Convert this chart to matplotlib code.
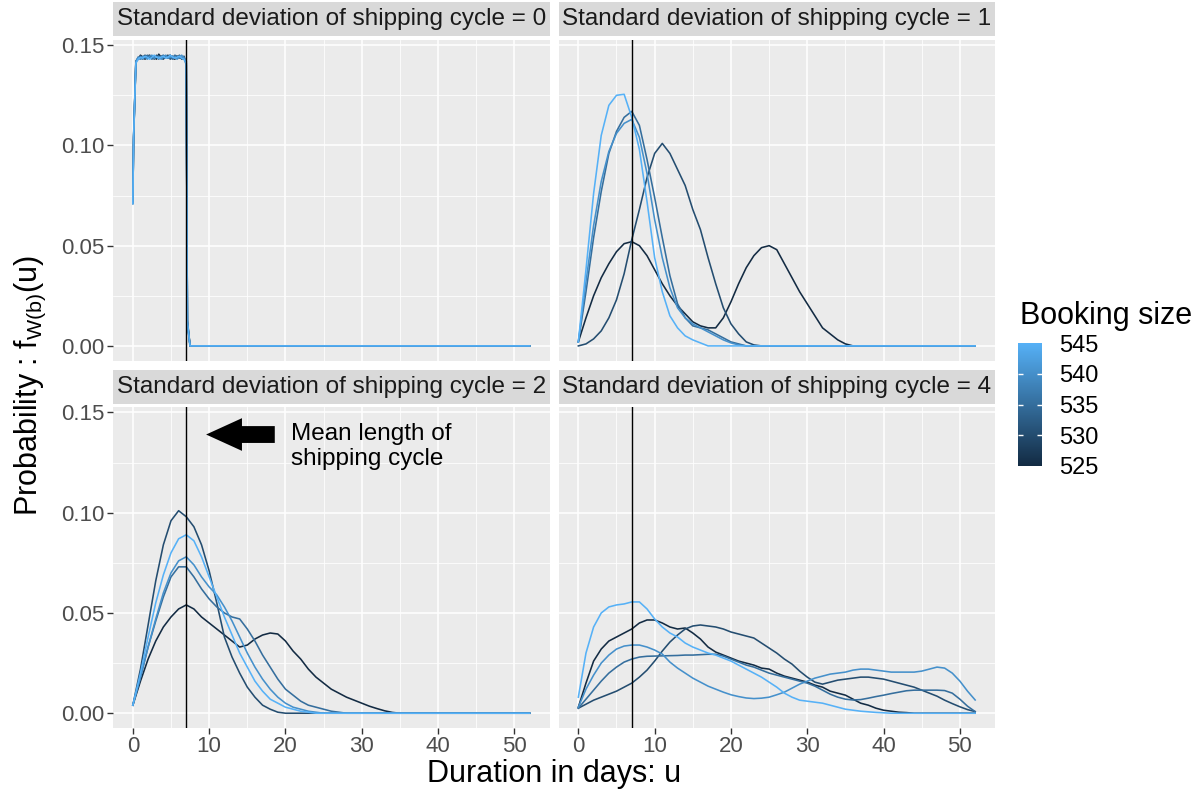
import numpy as np
import matplotlib.pyplot as plt
from matplotlib.colors import LinearSegmentedColormap, Normalize
from matplotlib.patches import FancyArrow
from matplotlib.ticker import MultipleLocator, FormatStrFormatter

plt.rcParams['font.family'] = ['Liberation Sans', 'DejaVu Sans']

W, H = 1201, 792

# booking sizes (colour scale) and facet values
booking = [525, 530, 535, 540, 545]
sd_values = [0, 1, 2, 4]
mean_cycle = 7

# sd = 0 has its own finer day grid (step plateau)
days_sd0 = [0, 0.1, 0.4, 0.7, 1.0, 1.3, 1.6, 1.9, 2.2, 2.5, 2.8, 3.1, 3.4, 3.7,
            4.0, 4.3, 4.6, 4.9, 5.2, 5.5, 5.8, 6.1, 6.4, 6.7, 7.0, 7.15, 7.5, 52]
# other panels: one value per day, 0..52
days = list(range(53))

# densities, in units of 1/1000
sd0 = {
    525: [72, 103, 142, 143, 145, 144, 143, 144.5, 145, 143.5, 144, 143, 145.5, 144,
          143.5, 144, 144.5, 145, 143.5, 143, 144.5, 144, 143.5, 143, 142, 12, 0, 0],
    530: [72, 104, 141.5, 144, 143, 144, 145, 143.5, 144, 144.5, 143, 145, 144, 143.5,
          143, 144.5, 145, 143, 144.5, 144, 143.5, 145, 143, 144.5, 141, 13, 0, 0],
    535: [71, 105, 142, 143.5, 144.5, 143, 144, 145, 144, 143, 144, 144.5, 143, 144.5,
          145, 144, 143.5, 144, 143, 145, 144.5, 143.5, 144, 144, 140, 11, 0, 0],
    540: [71, 103, 142, 144, 143, 144.5, 144, 143, 144.5, 145, 143.5, 144, 144.5, 143,
          144, 145, 143.5, 144, 144.5, 144, 143, 144, 145, 143.5, 142, 10, 0, 0],
    545: [71, 104, 141, 143, 144, 143.5, 144.5, 144, 143, 144, 145, 144, 143.5, 144,
          144.5, 143.5, 144, 145, 144, 143.5, 144, 144.5, 143.5, 143, 141, 12, 0, 0],
}

sd1 = {
    525: [2, 14, 25, 34, 41, 47, 51, 52, 50, 45,
          38, 31, 25, 20, 16, 12, 10, 9, 9, 14,
          22, 31, 39, 45, 49, 50, 48, 41, 34, 27,
          21, 15, 9, 6, 3, 1, 0, 0, 0, 0,
          0, 0, 0, 0, 0, 0, 0, 0, 0, 0,
          0, 0, 0],
    530: [0, 1, 3.5, 7.5, 14, 23, 36, 53, 68, 84,
          96, 101, 96, 88, 80, 68, 58, 44, 31, 19,
          11, 6, 2, 0.5, 0, 0, 0, 0, 0, 0,
          0, 0, 0, 0, 0, 0, 0, 0, 0, 0,
          0, 0, 0, 0, 0, 0, 0, 0, 0, 0,
          0, 0, 0],
    535: [2, 27, 54, 77, 96, 107, 114, 117, 110, 93,
          74, 54, 35, 21, 14, 10, 9, 8, 6, 4,
          2, 1, 0, 0, 0, 0, 0, 0, 0, 0,
          0, 0, 0, 0, 0, 0, 0, 0, 0, 0,
          0, 0, 0, 0, 0, 0, 0, 0, 0, 0,
          0, 0, 0],
    540: [2, 32, 60, 82, 97, 106, 111, 113, 104, 86,
          63, 44, 29, 19, 14, 11, 9, 7, 5, 3,
          1.5, 0.5, 0, 0, 0, 0, 0, 0, 0, 0,
          0, 0, 0, 0, 0, 0, 0, 0, 0, 0,
          0, 0, 0, 0, 0, 0, 0, 0, 0, 0,
          0, 0, 0],
    545: [2, 38, 76, 105, 120, 125, 125.5, 114, 98, 72,
          44, 27, 15, 9, 5, 3, 1.5, 0, 0, 0,
          0, 0, 0, 0, 0, 0, 0, 0, 0, 0,
          0, 0, 0, 0, 0, 0, 0, 0, 0, 0,
          0, 0, 0, 0, 0, 0, 0, 0, 0, 0,
          0, 0, 0],
}

sd2 = {
    525: [4, 16, 27, 36, 43, 48, 52, 54, 52, 48,
          45, 42, 39, 36, 33, 34, 37, 39, 40, 39.5,
          36, 31, 27, 22, 18, 15, 12, 10, 8, 6.5,
          5, 3.5, 2.3, 1.2, 0.4, 0, 0, 0, 0, 0,
          0, 0, 0, 0, 0, 0, 0, 0, 0, 0,
          0, 0, 0],
    530: [4, 22, 44, 66, 84, 96, 101, 98, 93, 84,
          71, 55, 38, 28, 20, 13, 8, 4, 2, 0.5,
          0, 0, 0, 0, 0, 0, 0, 0, 0, 0,
          0, 0, 0, 0, 0, 0, 0, 0, 0, 0,
          0, 0, 0, 0, 0, 0, 0, 0, 0, 0,
          0, 0, 0],
    535: [4, 18, 33, 46, 58, 68, 73, 73, 68, 62,
          57, 53, 50, 48, 47, 42, 36, 29, 23, 17,
          12, 9, 6, 4, 3, 2, 1, 0.5, 0, 0,
          0, 0, 0, 0, 0, 0, 0, 0, 0, 0,
          0, 0, 0, 0, 0, 0, 0, 0, 0, 0,
          0, 0, 0],
    540: [4, 18, 33, 47, 60, 70, 76, 78, 74, 68,
          63, 59, 53, 46, 38, 30, 23, 17, 12, 8,
          5, 3, 2, 1, 0.5, 0, 0, 0, 0, 0,
          0, 0, 0, 0, 0, 0, 0, 0, 0, 0,
          0, 0, 0, 0, 0, 0, 0, 0, 0, 0,
          0, 0, 0],
    545: [4, 20, 38, 55, 69, 80, 87, 89, 86, 78,
          68, 58, 48, 39, 30, 23, 16, 11, 7, 5,
          3, 2, 1, 0.5, 0, 0, 0, 0, 0, 0,
          0, 0, 0, 0, 0, 0, 0, 0, 0, 0,
          0, 0, 0, 0, 0, 0, 0, 0, 0, 0,
          0, 0, 0],
}

sd4 = {
    525: [3, 15, 26, 32, 36, 38, 40, 42, 45, 46.5,
          46.5, 45, 43, 42, 42.5, 40, 37, 33, 30.5, 29,
          27.5, 26, 25, 24, 22.5, 22, 20, 18.5, 17.5, 16.5,
          15.5, 14, 13, 11, 10, 9, 7, 5, 4, 2.5,
          1.5, 1, 0.5, 0.3, 0, 0, 0, 0, 0, 0,
          0, 0, 0],
    530: [2.5, 4.5, 6.5, 8, 9.5, 11, 13, 15, 18, 21.5,
          26, 31, 35.5, 39, 42, 43.5, 44, 43.5, 43, 42,
          40.5, 39.5, 38.5, 37.5, 35, 32.5, 30, 27, 24.5, 21,
          18, 15.5, 14.5, 15.5, 16.5, 17, 17.5, 18, 18, 17.5,
          17, 16, 15, 14, 13, 11.5, 10, 8.5, 6.5, 4.8,
          3.2, 1.8, 0.8],
    535: [2.5, 7, 11.5, 16, 20, 23, 25.5, 27, 28, 28.4,
          28.5, 28.6, 28.7, 28.8, 29, 29, 29.2, 29.4, 29.4, 28.5,
          27, 25.5, 24, 23, 21.5, 20, 19, 18, 17, 16,
          15, 13.5, 11.5, 9.5, 8, 7, 6.6, 6.8, 7.5, 8.3,
          9, 9.8, 10.5, 11.2, 11.5, 11.5, 11.5, 11.5, 11.3, 10,
          7, 3.5, 0.8],
    540: [3, 12, 19, 25, 29, 32, 33.5, 34, 34, 33,
          31.5, 29.5, 25.5, 22.5, 20, 17.5, 15.5, 13.5, 12, 10.5,
          9.2, 8.3, 7.6, 7.3, 7.5, 8, 9.2, 10.5, 12.5, 14.5,
          16, 17.5, 18.5, 19.5, 20, 20.5, 21.5, 22, 22, 21.5,
          21, 20.5, 20.5, 20.5, 20.5, 21, 22, 23, 22.5, 20,
          16, 11, 6.6],
    545: [8, 30, 43, 50, 53, 54, 54.5, 55.5, 55.5, 52,
          47, 43, 40, 38, 35, 33, 31.5, 30, 29, 27.5,
          26, 24, 22, 20, 18, 15.5, 13, 10, 8, 6.5,
          6, 5.5, 5, 4, 3, 2, 1.5, 1, 0.7, 0.4,
          0.2, 0, 0, 0, 0, 0, 0, 0, 0, 0,
          0, 0, 0],
}

panels = [(days_sd0, sd0), (days, sd1), (days, sd2), (days, sd4)]

cmap = LinearSegmentedColormap.from_list('booking', ['#132B43', '#56B1F7'])
norm = Normalize(vmin=525, vmax=545)

fig = plt.figure(figsize=(W / 100, H / 100), dpi=100)


def box(left, top, right, bottom):
    return [left / W, 1 - bottom / H, (right - left) / W, (bottom - top) / H]


panel_px = [(113, 39.6, 549.5, 360.5), (558.5, 39.6, 995, 360.5),
            (113, 406.9, 549.5, 727.8), (558.5, 406.9, 995, 727.8)]
strip_px = [(113, 2, 549.5, 36), (558.5, 2, 995, 36),
            (113, 370, 549.5, 404), (558.5, 370, 995, 404)]

ymax = max(max(v) for _, d in panels for v in d.values()) / 1000
ylim = (-0.05 * ymax, 1.05 * ymax)

axes = []
for i, ((x, dens), sd) in enumerate(zip(panels, sd_values)):
    ax = fig.add_axes(box(*panel_px[i]))
    ax.set_facecolor('#EBEBEB')
    for s in ax.spines.values():
        s.set_visible(False)
    ax.set_xlim(-2.6, 54.6)
    ax.set_ylim(*ylim)
    ax.xaxis.set_major_locator(MultipleLocator(10))
    ax.xaxis.set_minor_locator(MultipleLocator(5))
    ax.yaxis.set_major_locator(MultipleLocator(0.05))
    ax.yaxis.set_minor_locator(MultipleLocator(0.025))
    ax.yaxis.set_major_formatter(FormatStrFormatter('%.2f'))
    ax.grid(which='major', color='white', lw=1.1)
    ax.grid(which='minor', color='white', lw=0.55)
    ax.set_axisbelow(True)
    ax.tick_params(which='minor', length=0)
    ax.tick_params(which='major', length=4, width=1, color='#333333', pad=2,
                   labelsize=16, labelcolor='#4D4D4D')
    if i < 2:
        ax.tick_params(axis='x', length=0, labelbottom=False)
    if i % 2 == 1:
        ax.tick_params(axis='y', length=0, labelleft=False)

    for b in booking:
        ax.plot(x, np.array(dens[b]) / 1000, color=cmap(norm(b)), lw=1.15,
                solid_joinstyle='round')
    ax.axvline(mean_cycle, color='black', lw=1.0)

    sax = fig.add_axes(box(*strip_px[i]))
    sax.set_facecolor('#D9D9D9')
    for s in sax.spines.values():
        s.set_visible(False)
    sax.set_xticks([])
    sax.set_yticks([])
    sax.text(0.5, 0.5, f'Standard deviation of shipping cycle = {sd}',
             ha='center', va='center', fontsize=17.5, color='#1A1A1A',
             transform=sax.transAxes)
    axes.append(ax)

# annotation for the mean-cycle line
ax = axes[2]
ax.add_patch(FancyArrow(18.6, 0.139, -9.0, 0, width=0.0084, head_width=0.0163,
                        head_length=4.7, length_includes_head=True,
                        color='black', lw=0))
ax.text(20.7, 0.133, 'Mean length of\nshipping cycle', ha='left', va='center',
        fontsize=17.5, color='black', linespacing=1.15)

fig.text(554 / W, 1 - 774 / H, 'Duration in days: u', ha='center', va='center',
         fontsize=22)
fig.text(30 / W, 1 - 385 / H, 'Probability : $\\mathregular{f_{W(b)}(u)}$',
         ha='center', va='center', rotation=90, fontsize=22)

# colour bar legend
cax = fig.add_axes(box(1018, 343, 1042, 466))
grad = np.linspace(0, 1, 256).reshape(-1, 1)
cax.imshow(grad, cmap=cmap, aspect='auto', origin='lower',
           extent=[0, 1, norm.vmin, norm.vmax])
cax.set_xlim(0, 1)
cax.set_ylim(norm.vmin, norm.vmax)
for s in cax.spines.values():
    s.set_visible(False)
cax.set_xticks([])
cax.yaxis.tick_right()
cax.set_yticks(booking)
cax.tick_params(axis='y', length=0, pad=12, labelsize=17, labelcolor='black')
cax.hlines(booking[1:-1], 0, 0.2, colors='white', lw=1)
cax.hlines(booking[1:-1], 0.8, 1, colors='white', lw=1)
fig.text(1020 / W, 1 - 316 / H, 'Booking size', ha='left', va='center',
         fontsize=22)

fig.savefig('out.png', dpi=100)
